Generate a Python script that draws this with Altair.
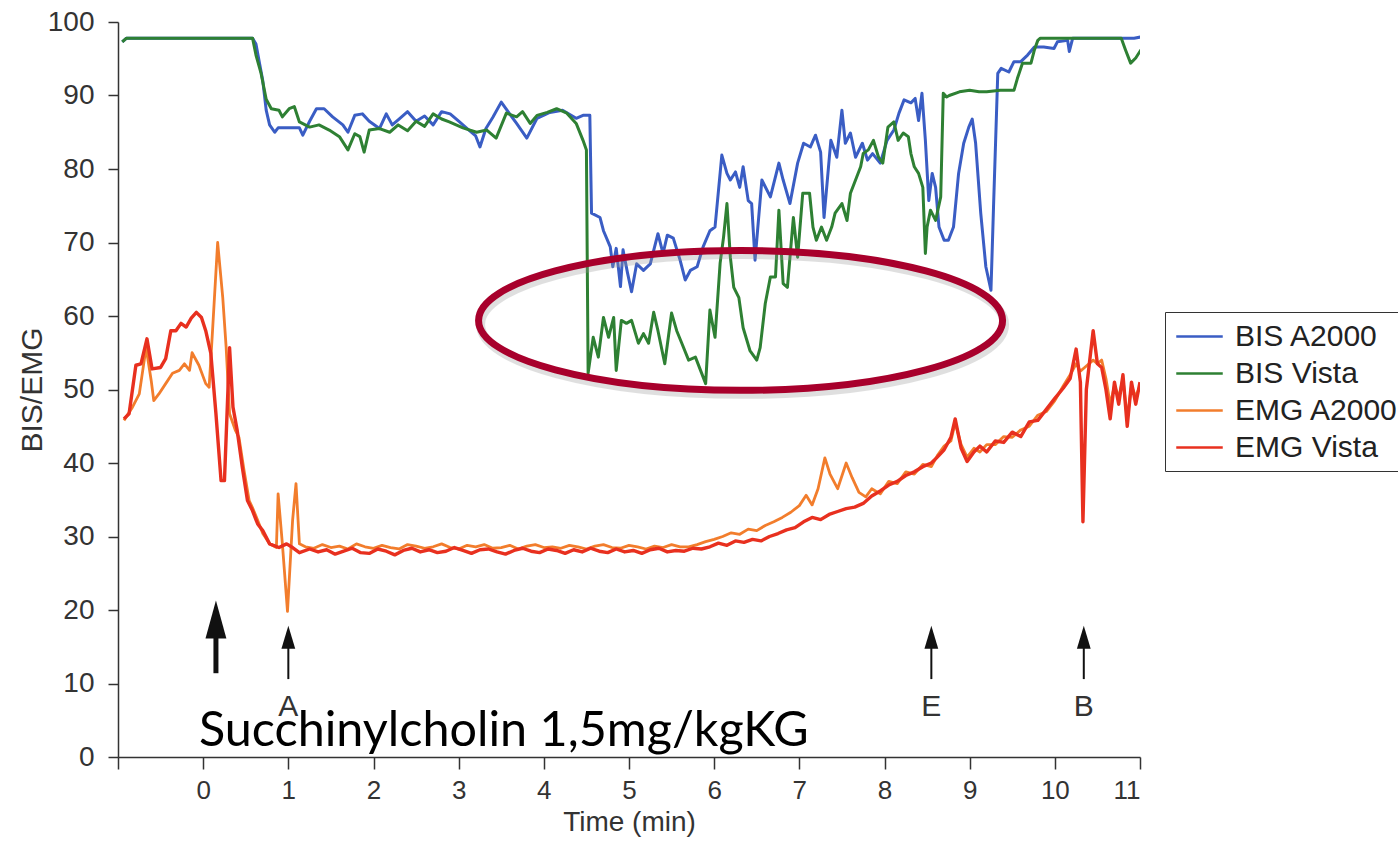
import altair as alt
import pandas as pd

# ---- BIS A2000 (blue) ----
BIS_A2000_T = [-0.95, -0.9, 0.58, 0.62, 0.66, 0.7, 0.74, 0.78, 0.84, 0.88, 1.0, 1.13, 1.17, 1.25, 1.33, 1.42,
               1.52, 1.64, 1.7, 1.78, 1.87, 1.95, 2.07, 2.15, 2.22, 2.3, 2.4, 2.5, 2.6, 2.7, 2.8, 2.9, 3.0,
               3.1, 3.2, 3.25, 3.32, 3.4, 3.5, 3.58, 3.68, 3.8, 3.92, 4.07, 4.22, 4.38, 4.46, 4.54, 4.56,
               4.66, 4.7, 4.78, 4.81, 4.85, 4.9, 4.93, 4.98, 5.03, 5.09, 5.17, 5.25, 5.34, 5.4, 5.45, 5.52,
               5.6, 5.66, 5.72, 5.8, 5.87, 5.95, 6.01, 6.09, 6.15, 6.19, 6.25, 6.3, 6.34, 6.4, 6.44, 6.48,
               6.56, 6.66, 6.76, 6.81, 6.89, 6.98, 7.05, 7.13, 7.19, 7.25, 7.29, 7.37, 7.44, 7.5, 7.54,
               7.6, 7.66, 7.74, 7.8, 7.86, 7.95, 8.03, 8.11, 8.17, 8.23, 8.31, 8.36, 8.4, 8.44, 8.48, 8.52,
               8.56, 8.6, 8.64, 8.7, 8.75, 8.81, 8.87, 8.93, 8.99, 9.03, 9.07, 9.13, 9.19, 9.25, 9.28,
               9.33, 9.37, 9.46, 9.52, 9.6, 9.68, 9.76, 9.87, 9.99, 10.03, 10.15, 10.17, 10.21, 10.93, 11.03]
BIS_A2000_V = [97.3, 97.8, 97.8, 97.0, 94.5, 92.0, 88.0, 86.0, 85.0, 85.6, 85.6, 85.6, 84.6, 86.5, 88.2, 88.2,
               87.1, 86.0, 85.0, 87.3, 87.5, 86.5, 85.5, 87.5, 86.0, 86.8, 87.8, 86.5, 87.2, 86.0, 87.8, 87.5, 86.5,
               85.5, 84.5, 83.0, 85.5, 87.0, 89.1, 87.8, 86.2, 84.2, 86.9, 87.7, 88.0, 86.9, 87.3, 87.3, 74.0,
               73.4, 71.6, 69.4, 66.7, 69.2, 64.0, 69.0, 66.0, 63.3, 67.1, 66.2, 67.1, 71.2, 68.5, 71.0, 70.6,
               67.6, 64.9, 66.2, 66.7, 69.4, 71.6, 72.1, 81.9, 79.4, 78.5, 79.6, 77.5, 80.3, 75.7, 75.3, 67.6,
               78.5, 76.2, 80.8, 78.5, 75.3, 80.8, 83.5, 83.0, 84.6, 82.3, 73.4, 83.9, 81.6, 88.0, 83.5,
               84.9, 81.6, 83.5, 81.2, 82.1, 80.8, 83.9, 85.3, 87.6, 89.4, 89.0, 89.6, 86.6, 90.3, 83.9, 75.7,
               79.4, 77.5, 72.1, 70.3, 70.3, 72.1, 79.4, 83.5, 85.7, 86.8, 83.5, 74.0, 66.7, 63.5, 74.8,
               93.0, 93.7, 93.2, 94.6, 94.6, 95.5, 96.6, 96.6, 96.4, 97.3, 97.5, 96.0, 97.8, 97.8, 98.0]

# ---- BIS Vista (green) ----
BIS_VISTA_T = [-0.95, -0.9, 0.58, 0.62, 0.68, 0.74, 0.8, 0.89, 0.93, 1.01, 1.07, 1.13, 1.25, 1.36, 1.48, 1.6,
               1.7, 1.78, 1.84, 1.89, 1.95, 2.07, 2.19, 2.29, 2.4, 2.5, 2.6, 2.7, 2.8, 2.89, 3.05, 3.21, 3.33,
               3.44, 3.56, 3.68, 3.75, 3.84, 3.92, 4.04, 4.15, 4.27, 4.38, 4.46, 4.5, 4.52, 4.58, 4.64, 4.7,
               4.76, 4.82, 4.85, 4.91, 4.97, 5.03, 5.11, 5.17, 5.23, 5.29, 5.34, 5.42, 5.5, 5.56, 5.62, 5.7,
               5.78, 5.84, 5.9, 5.95, 6.01, 6.07, 6.11, 6.15, 6.19, 6.23, 6.29, 6.34, 6.42, 6.5, 6.54, 6.6,
               6.66, 6.72, 6.76, 6.81, 6.86, 6.93, 6.98, 7.04, 7.12, 7.16, 7.2, 7.26, 7.32, 7.38, 7.42, 7.5,
               7.56, 7.6, 7.66, 7.72, 7.75, 7.81, 7.87, 7.93, 7.98, 8.04, 8.11, 8.16, 8.22, 8.28, 8.31, 8.35,
               8.4, 8.45, 8.48, 8.5, 8.54, 8.6, 8.66, 8.69, 8.73, 8.76, 8.88, 9.0, 9.11, 9.2, 9.36, 9.52,
               9.56, 9.62, 9.72, 9.76, 9.8, 9.83, 10.78, 10.83, 10.89, 10.95, 11.01, 11.03]
BIS_VISTA_V = [97.3, 97.8, 97.8, 95.5, 93.0, 89.5, 88.2, 88.0, 87.1, 88.2, 88.5, 86.4, 85.7, 86.0, 85.3, 84.4,
               82.6, 84.8, 84.4, 82.3, 85.3, 85.5, 85.0, 86.0, 85.2, 86.5, 85.8, 87.5, 86.8, 86.4, 85.6, 85.0, 85.3,
               84.2, 87.6, 87.1, 87.8, 86.2, 87.3, 87.7, 88.2, 87.6, 86.2, 83.9, 82.6, 52.2, 57.1, 54.4, 59.8,
               57.1, 59.8, 52.6, 59.4, 59.0, 59.4, 56.3, 57.6, 56.3, 60.5, 58.0, 53.5, 60.4, 58.0, 56.3, 54.0,
               54.4, 52.6, 50.8, 60.8, 57.1, 67.2, 70.7, 75.3, 68.0, 63.9, 62.5, 58.4, 55.3, 54.0, 55.7, 61.7,
               65.3, 65.3, 74.4, 64.4, 63.9, 73.4, 68.0, 76.7, 76.7, 72.1, 70.3, 72.1, 70.3, 72.1, 74.0, 75.3,
               73.0, 76.7, 78.5, 80.3, 82.1, 82.6, 83.9, 81.6, 80.8, 85.7, 86.4, 83.9, 84.9, 84.4, 82.1, 80.3,
               79.4, 77.5, 68.5, 72.1, 74.4, 73.0, 76.2, 90.3, 89.8, 90.0, 90.5, 90.7, 90.5, 90.5, 90.7, 90.7,
               92.3, 94.4, 94.4, 96.2, 97.5, 97.8, 97.8, 96.2, 94.4, 95.1, 96.2, 95.8]

# ---- EMG A2000 (orange) ----
EMG_A2000_T = [-0.93, -0.83, -0.75, -0.67, -0.61, -0.58, -0.52, -0.44, -0.36, -0.28, -0.22, -0.16, -0.13, -0.05,
               0.03, 0.07, 0.11, 0.17, 0.23, 0.27, 0.31, 0.38, 0.42, 0.48, 0.54, 0.58, 0.64, 0.7, 0.78, 0.86,
               0.88, 0.93, 0.99, 1.05, 1.09, 1.13,
               1.2, 1.3, 1.4, 1.5, 1.6, 1.7, 1.8, 1.9, 2.0, 2.1, 2.2, 2.3, 2.4, 2.5, 2.6, 2.7, 2.8, 2.9, 3.0,
               3.1, 3.2, 3.3, 3.4, 3.5, 3.6, 3.7, 3.8, 3.9, 4.0, 4.1, 4.2, 4.3, 4.4, 4.5, 4.6, 4.7, 4.8, 4.9,
               5.0, 5.1, 5.2, 5.3, 5.4, 5.5, 5.6, 5.7,
               5.8, 5.9, 6.0, 6.1, 6.2, 6.3, 6.4, 6.5, 6.6, 6.7, 6.8, 6.9, 7.0,
               7.08, 7.15, 7.22, 7.3, 7.36, 7.45, 7.55, 7.62, 7.7,
               7.78, 7.85, 7.95, 8.05, 8.15, 8.25, 8.35, 8.45, 8.55, 8.62, 8.7, 8.78, 8.83, 8.9, 8.97, 9.05,
               9.12, 9.2, 9.3, 9.4, 9.5, 9.6, 9.7, 9.8, 9.9, 10.0, 10.1, 10.18, 10.25, 10.3, 10.35, 10.45,
               10.5, 10.55, 10.6, 10.65, 10.7, 10.75, 10.8, 10.85, 10.9, 10.95, 11.0]
EMG_A2000_V = [45.8, 47.6, 49.4, 55.7, 51.2, 48.5, 49.4, 50.8, 52.2, 52.6, 53.5, 52.6, 55.0, 53.3,
               50.8, 50.3, 58.0, 70.0, 62.5, 55.7, 46.7, 44.4, 43.5, 39.0, 34.9, 33.9, 32.2, 30.4, 29.0, 28.5,
               35.8, 29.0, 19.8, 32.2, 37.2, 29.0,
               28.6, 28.4, 28.9, 28.5, 28.7, 28.3, 29.0, 28.6, 28.4, 28.8, 28.5, 28.3, 28.9, 28.7, 28.4, 28.6,
               29.0, 28.5, 28.3, 28.8, 28.6, 28.9, 28.4, 28.5, 28.8, 28.3, 28.7, 28.9, 28.5, 28.6, 28.4, 28.8,
               28.6, 28.3, 28.7, 28.9, 28.5, 28.4, 28.8, 28.6, 28.3, 28.7, 28.5, 28.9, 28.6, 28.6,
               28.9, 29.3, 29.6, 30.0, 30.5, 30.3, 31.0, 30.8, 31.5, 32.0, 32.6, 33.3, 34.2,
               35.6, 34.3, 36.5, 40.7, 38.5, 36.5, 40.0, 38.0, 36.0,
               35.4, 36.5, 35.8, 37.5, 37.2, 38.8, 38.5, 39.8, 39.5, 41.0, 42.3, 43.0, 45.5, 42.5, 40.8, 42.0,
               41.5, 42.5, 42.5, 43.6, 43.5, 44.5, 45.0, 46.5, 47.0, 48.5, 50.5, 52.0, 53.5, 52.5, 53.0, 54.0,
               53.5, 54.0, 51.5, 48.0, 50.5, 49.0, 51.5, 46.0, 50.5, 49.0, 50.5]

# ---- EMG Vista (red) ----
EMG_VISTA_T = [-0.93, -0.87, -0.79, -0.73, -0.66, -0.6, -0.5, -0.44, -0.38, -0.32, -0.26, -0.2, -0.14, -0.08,
               -0.02, 0.03, 0.09, 0.15, 0.21, 0.25, 0.31, 0.35, 0.4, 0.46, 0.52, 0.58, 0.64, 0.7, 0.78, 0.89,
               0.98, 1.05, 1.13,
               1.25, 1.35, 1.45, 1.55, 1.65, 1.75, 1.85, 1.95, 2.05, 2.15, 2.25, 2.35, 2.45,
               2.55, 2.65, 2.75, 2.85, 2.95, 3.05, 3.15, 3.25, 3.35, 3.45, 3.55, 3.65, 3.75, 3.85, 3.95, 4.05,
               4.15, 4.25, 4.35, 4.45, 4.55, 4.65, 4.75, 4.85, 4.95, 5.05, 5.15, 5.25, 5.35, 5.45, 5.55, 5.65,
               5.75, 5.85,
               5.95, 6.05, 6.15, 6.25, 6.35, 6.45, 6.55, 6.65, 6.75, 6.85, 6.95, 7.05, 7.15, 7.25,
               7.35, 7.45, 7.55, 7.65, 7.75, 7.85, 7.95, 8.05, 8.15, 8.25, 8.35, 8.45, 8.55, 8.62, 8.7, 8.78,
               8.83, 8.9, 8.97, 9.05, 9.12, 9.2, 9.3, 9.4, 9.5, 9.6, 9.7, 9.8, 9.9, 10.0, 10.1, 10.18, 10.25,
               10.3, 10.33, 10.37, 10.45, 10.5, 10.55, 10.6, 10.65, 10.7, 10.75, 10.8, 10.85, 10.9, 10.95, 11.0]
EMG_VISTA_V = [46.0, 46.7, 53.3, 53.5, 56.9, 52.8, 53.0, 54.2, 58.0, 58.0, 59.0, 58.5, 59.7, 60.5,
               59.8, 58.0, 54.9, 46.7, 37.6, 37.6, 55.7, 47.6, 44.4, 39.4, 34.9, 33.5, 31.7, 30.8, 29.0, 28.5,
               29.0, 28.5, 27.8,
               28.3, 27.9, 28.2, 27.6, 28.0, 28.4, 27.8, 27.7, 28.3, 28.0, 27.5, 28.1, 28.4,
               27.9, 28.2, 27.8, 28.0, 28.5, 28.1, 27.7, 28.2, 28.3, 27.9, 27.6, 28.1, 28.4, 28.0, 27.8, 28.3,
               28.1, 27.7, 28.2, 27.9, 28.4, 28.0, 27.8, 28.3, 27.9, 28.1, 27.7, 28.2, 28.4, 27.9, 28.1, 28.0,
               28.4, 28.3,
               28.6, 29.1, 28.8, 29.4, 29.2, 29.6, 29.4, 30.0, 30.4, 30.9, 31.2, 32.0, 32.6, 32.3,
               33.0, 33.4, 33.8, 34.0, 34.5, 35.5, 36.2, 37.0, 37.5, 38.3, 38.8, 39.5, 40.0, 40.8, 41.8, 43.5,
               46.0, 42.0, 40.2, 41.5, 42.3, 41.5, 43.0, 42.8, 44.2, 43.6, 45.6, 45.8, 47.3, 48.8, 50.2, 51.5, 55.5,
               51.0, 32.0, 50.0, 58.0, 53.5, 53.0, 50.0, 46.0, 51.0, 48.0, 52.0, 45.0, 51.0, 48.0, 51.0]

SERIES = ["BIS A2000", "BIS Vista", "EMG A2000", "EMG Vista"]
COLORS = ["#3a5dc4", "#2e8033", "#f27d2c", "#e8301f"]
LINE_WIDTHS = [3.0, 3.0, 2.8, 3.4]

# event markers: position in minutes, label
EVENT_T = [1.0, 8.55, 10.34]
EVENT_LABEL = ["A", "E", "B"]
BOLUS_T = [0.15]

# highlighted region (ellipse centre, in data units)
ELLIPSE_T = [6.31]
ELLIPSE_V = [59.4]

NOTE_TEXT = ["Succhinylcholin 1,5mg/kgKG"]
NOTE_T = [-0.05]
NOTE_V = [1.5]

FONT = "Liberation Sans"
AXIS_COLOR = "#333333"

x_scale = alt.Scale(domain=[-1, 11], nice=False, zero=False)
y_scale = alt.Scale(domain=[0, 100], nice=False, zero=False)
color_scale = alt.Scale(domain=SERIES, range=COLORS)

x_axis = alt.Axis(
    values=list(range(-1, 12)), format="d",
    labelExpr="datum.value < 0 ? '' : datum.label",
    title="Time (min)", grid=False,
    domainColor=AXIS_COLOR, domainWidth=1.5, tickColor=AXIS_COLOR, tickWidth=1.5, tickSize=12,
    labelFont=FONT, labelFontSize=26, labelColor=AXIS_COLOR, labelPadding=8,
    titleFont=FONT, titleFontSize=28, titleFontWeight="normal", titleColor=AXIS_COLOR,
    titleBaseline="alphabetic", titleY=73,
)
y_axis = alt.Axis(
    values=list(range(0, 101, 10)), format="d",
    title="BIS/EMG", grid=False,
    domainColor=AXIS_COLOR, domainWidth=1.5, tickColor=AXIS_COLOR, tickWidth=1.5, tickSize=10,
    labelFont=FONT, labelFontSize=28, labelColor=AXIS_COLOR, labelPadding=14,
    titleFont=FONT, titleFontSize=30, titleFontWeight="normal", titleColor=AXIS_COLOR,
    titleBaseline="alphabetic", titleX=-77,
)
legend = alt.Legend(
    orient="none", legendX=1047, legendY=290, direction="vertical", title=None,
    symbolType="M-1.55,0L1.55,0", symbolSize=900, symbolStrokeWidth=2.5, symbolOffset=10,
    labelFont=FONT, labelFontSize=30, labelColor="#222222", labelOffset=19, labelLimit=400,
    rowPadding=5, padding=8, strokeColor="#333333", fillColor="white",
)

series_data = [
    (SERIES[0], BIS_A2000_T, BIS_A2000_V, LINE_WIDTHS[0]),
    (SERIES[1], BIS_VISTA_T, BIS_VISTA_V, LINE_WIDTHS[1]),
    (SERIES[2], EMG_A2000_T, EMG_A2000_V, LINE_WIDTHS[2]),
    (SERIES[3], EMG_VISTA_T, EMG_VISTA_V, LINE_WIDTHS[3]),
]

layers = []
for name, ts, vs, w in series_data:
    df = pd.DataFrame({"t": ts, "v": vs, "series": name})
    layers.append(
        alt.Chart(df).mark_line(strokeWidth=w, strokeJoin="round", clip=True).encode(
            x=alt.X("t:Q", scale=x_scale, axis=x_axis),
            y=alt.Y("v:Q", scale=y_scale, axis=y_axis),
            color=alt.Color("series:N", scale=color_scale, legend=legend),
        )
    )

# arrows: shafts and heads
bolus_df = pd.DataFrame({"t": BOLUS_T, "y0": [11.4], "y1": [16.6], "head": [18.7]})
event_df = pd.DataFrame({"t": EVENT_T, "y0": [10.6] * 3, "y1": [15.0] * 3, "head": [16.3] * 3,
                         "label": EVENT_LABEL, "ly": [5.6] * 3})

bolus_shaft = alt.Chart(bolus_df).mark_rule(color="#111111", strokeWidth=5).encode(
    x=alt.X("t:Q", scale=x_scale), y=alt.Y("y0:Q", scale=y_scale), y2="y1:Q")
bolus_head = alt.Chart(bolus_df).mark_point(
    shape="M0,-1L0.55,1L-0.55,1Z", size=1444, filled=True, color="#111111", opacity=1, strokeWidth=0
).encode(x=alt.X("t:Q", scale=x_scale), y=alt.Y("head:Q", scale=y_scale))

event_shaft = alt.Chart(event_df).mark_rule(color="#111111", strokeWidth=2).encode(
    x=alt.X("t:Q", scale=x_scale), y=alt.Y("y0:Q", scale=y_scale), y2="y1:Q")
event_head = alt.Chart(event_df).mark_point(
    shape="M0,-1L0.6,1L-0.6,1Z", size=529, filled=True, color="#111111", opacity=1, strokeWidth=0
).encode(x=alt.X("t:Q", scale=x_scale), y=alt.Y("head:Q", scale=y_scale))
event_text = alt.Chart(event_df).mark_text(
    font=FONT, fontSize=30, color="#333333", align="center", baseline="alphabetic"
).encode(x=alt.X("t:Q", scale=x_scale), y=alt.Y("ly:Q", scale=y_scale), text="label:N")

# highlight ellipse with a faint shadow
ell_df = pd.DataFrame({"t": ELLIPSE_T, "v": ELLIPSE_V})
ELLIPSE_PATH = "M-1,0A1,0.267,0,1,1,1,0A1,0.267,0,1,1,-1,0Z"
ellipse_shadow = alt.Chart(ell_df).mark_point(
    shape=ELLIPSE_PATH, size=274576, filled=False, color="#999999", strokeWidth=9, opacity=0.3,
    xOffset=2, yOffset=4
).encode(x=alt.X("t:Q", scale=x_scale), y=alt.Y("v:Q", scale=y_scale))
ellipse = alt.Chart(ell_df).mark_point(
    shape=ELLIPSE_PATH, size=274576, filled=False, color="#a8002c", strokeWidth=7, opacity=1
).encode(x=alt.X("t:Q", scale=x_scale), y=alt.Y("v:Q", scale=y_scale))

note_df = pd.DataFrame({"t": NOTE_T, "v": NOTE_V, "text": NOTE_TEXT})
note = alt.Chart(note_df).mark_text(
    font="Lato", fontSize=48.5, color="#000000", align="left", baseline="alphabetic"
).encode(x=alt.X("t:Q", scale=x_scale), y=alt.Y("v:Q", scale=y_scale), text="text:N")

chart = alt.layer(
    *layers, ellipse_shadow, ellipse, bolus_shaft, bolus_head, event_shaft, event_head, event_text, note
).properties(
    width=1022, height=735,
    autosize=alt.AutoSizeParams(type="none"),
    padding={"left": 118, "top": 22, "right": 258, "bottom": 95},
    background="white",
).configure_view(stroke=None)

chart.save("out.html", embed_options={"renderer": "svg", "actions": False})
